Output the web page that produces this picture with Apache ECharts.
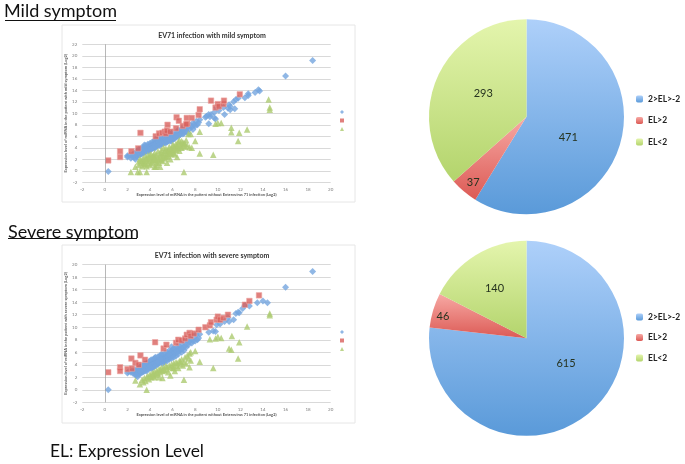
<!DOCTYPE html>
<html><head><meta charset="utf-8">
<style>html,body{margin:0;padding:0;background:#fff}#c{width:685px;height:464px}</style>
<script src="https://cdn.jsdelivr.net/npm/echarts@6/dist/echarts.min.js"></script>
</head><body><div id="c"></div>
<script>
const pieCategories=['2>EL>-2','EL>2','EL<2'];
const mildPie=[471,37,293];
const severePie=[615,46,140];

const mildBlue=[[0.3,-0.1],[18.4,19.2],[16,16.5],[13.6,14.1],[13.7,13.9],[13.3,13.6],[12.7,13.4],[12.7,13.1],[12.4,12.7],[11.8,12.6],[11.6,12.4],[11.4,12],[11.5,10.8],[11,11.5],[11.1,11.2],[10.9,10.9],[11.1,10.6],[10.6,9.8],[10.5,11],[10.1,10.5],[9.9,11],[9.7,10.2],[9.4,9.8],[9.3,9.4],[9.2,8.2],[9.7,9.2],[9.8,9],[9,9.5],[8.9,9.3],[9.2,9.8],[8.4,8.9],[8.1,8.6],[7.8,8.3],[8.2,8],[8,7.8],[7.7,7.6],[7.8,7.2],[7.5,7.3],[7.4,6.5],[7,7.2],[7.2,6.9],[6.9,6.4],[6.7,6.9],[6.6,6.2],[6.4,6.7],[6.4,6],[6.2,5.6],[6.3,6.4],[6.1,6.1],[6,6.7],[6,5.4],[5.9,6.2],[5.8,5.8],[5.8,5.2],[5.7,6.5],[5.6,6],[5.6,5.5],[5.5,5],[5.4,6.2],[5.4,5.7],[5.3,5.3],[5.2,4.8],[5.2,6],[5.1,5.6],[5.1,5.1],[5,5.8],[5,4.6],[4.9,5.3],[4.9,4.9],[4.8,5.6],[4.8,4.5],[4.7,5.1],[4.7,4.7],[4.6,5.4],[4.6,4.3],[4.5,4.9],[4.5,4.5],[4.4,5.2],[4.4,4.1],[4.3,4.7],[4.3,4.3],[4.2,5],[4.2,3.9],[4.1,4.5],[4.1,4.1],[4,4.8],[4,3.7],[3.9,4.3],[3.9,3.9],[3.8,4.6],[3.8,3.5],[3.7,4.1],[3.7,3.7],[3.6,4.4],[3.6,3.3],[3.5,3.9],[3.5,3.5],[3.4,4.1],[3.4,3.1],[3.3,3.7],[3.3,3.3],[3.2,3.9],[3.2,2.9],[3.1,3.5],[3.1,3.1],[3,3.7],[3,2.7],[2.9,3.3],[2.9,2.9],[2.8,3.4],[2.8,2.5],[2.7,3],[2.7,2.7],[2.7,2],[2.6,2.3],[2.5,2.9],[2.4,2.5],[2.3,2.2],[2,2.6],[2,2.4],[2.2,2.7],[3.5,4.5],[4.5,5.4],[5.5,6.5],[6.5,7.1],[5,5.3],[6,5.9],[7,6.5],[7.3,7.5],[6.8,7.3],[3.9,3.4],[4.4,3.9],[4.9,4.4],[5.4,4.9],[5.9,5.2],[3,3.2],[3.2,3.4],[3.4,3.6],[3.6,3.8],[3.8,4],[4,4.2],[4.2,4.4],[4.4,4.6],[4.6,4.8],[4.8,5],[5,5],[5.2,5.4],[5.4,5.3],[5.6,5.2],[5.8,5.5],[6,6.1],[6.2,6.2],[6.4,6.3],[6.6,6.6],[6.8,6.8],[7,6.9],[3.1,2.8],[3.3,3],[3.5,3.2],[3.7,3.4],[3.9,3.6],[4.1,3.8],[4.3,4],[4.5,4.2],[4.7,4.4],[4.9,4.6],[5.1,4.8],[5.3,4.9],[5.5,5.2],[5.7,5.3],[5.9,5.7],[6.1,5.7],[6.3,5.9],[6.5,6],[6.7,6.3],[2.9,2.6],[2.8,2.9],[2.6,2.7],[7.6,7.9],[7.9,8],[7.2,7.4],[8.3,8.4]];
const mildRed=[[0.3,1.8],[1.35,3.4],[1.35,2.4],[2.35,3.4],[2.95,3.9],[3.15,6.6],[4.5,6],[4.8,6.5],[5.1,6.6],[5.3,6.8],[5.4,6.5],[5.5,7],[5.55,8],[5.8,6.8],[6.3,7.4],[6.35,9.3],[6.55,8.7],[6.9,7.8],[7.25,9.2],[7.3,8.2],[7.7,9.2],[8.3,9.7],[8.4,10.7],[9.4,12.2],[9.8,11],[10,11.6],[10.1,11.2],[10.5,11.6],[10.55,12.2],[11.95,13.3],[7.2,8.1]];
const mildGreen=[[14.5,12.4],[14.6,11],[14.6,10.6],[12.6,7.2],[11.9,6.6],[11.8,5.2],[11.2,7.5],[11.2,6.7],[10.3,8.3],[10,8.3],[9.8,8.2],[9.6,2.8],[8.4,6.8],[8.4,3],[8,5.2],[7.6,6.4],[7.4,6.4],[7,-0.2],[6.4,2.4],[5.8,2],[5.5,1.4],[5.2,4],[4.9,0.7],[4.5,0.7],[4.4,0.7],[3.7,-0.2],[3.1,-0.2],[2.9,-0.2],[2.3,-0.2],[2.7,0.7],[3,1],[3,1.6],[3.1,2],[3.2,1.3],[3.3,0.8],[3.3,1.8],[3.4,2.2],[3.5,1.1],[3.5,1.6],[3.6,2.5],[3.7,0.8],[3.7,2],[3.8,1.3],[3.8,2.7],[3.9,1.7],[4,2.3],[4,1],[4.1,2.9],[4.2,1.5],[4.2,2],[4.3,2.6],[4.4,3.1],[4.5,1.8],[4.5,2.3],[4.6,2.8],[4.7,3.4],[4.8,1.4],[4.8,2],[4.9,2.5],[5,3.1],[5,3.6],[5.1,1.7],[5.1,2.2],[5.2,2.7],[5.3,3.4],[5.4,3.9],[5.4,2.4],[5.5,3],[5.6,2.6],[5.6,3.6],[5.7,4.2],[5.8,3.2],[5.9,2.9],[5.9,3.9],[6,4.5],[6,3.5],[6.1,3.1],[6.2,4.1],[6.3,4.7],[6.3,3.6],[6.4,4.3],[6.5,5],[6.5,3.9],[6.6,3.5],[6.7,4.6],[6.8,5.2],[6.8,4],[6.9,4.4],[7,4.9],[7.1,4.2],[7.2,5.3],[7.3,4.4],[7.5,4.1],[7.7,4],[6.2,2.9],[6.6,5.3],[4.6,1],[3.4,1.4],[3.2,1.8],[3.6,1.2],[3.9,2.3],[4.1,1.3],[4.3,1.9],[4.4,2.5],[4.6,1.5],[4.7,2.2],[4.9,3],[5,1.9],[5.1,2.7],[5.2,3.2],[5.3,2.2],[5.5,2.5],[5.5,3.5],[5.7,3],[5.7,3.6],[5.9,3.4],[6.1,3.7],[6.1,4.4],[6.3,4.1],[6.5,4.4],[6.7,4.1],[6.9,4.9],[7.1,4.7],[4,2.8],[4.2,2.5],[4.4,2],[3.8,2.1],[3.6,1.9]];

const severeBlue=[[0.3,0],[18.4,18.9],[16,16.4],[14.4,13.9],[14,14.2],[13.5,13.9],[12.8,13.4],[12.4,13.5],[12.2,13],[11.9,12.3],[11.8,12.4],[11.6,12.2],[11.4,11.2],[11,10.9],[10.9,11.5],[10.6,10.9],[10.2,10.5],[9.9,10.4],[9.8,9.3],[9.6,9.4],[9.2,9.2],[8.2,8],[8.1,8.9],[8.4,8.9],[8,7.8],[7.7,7.5],[7.9,8.4],[7.6,8.1],[7.4,7.2],[7.3,7.9],[7.2,6.8],[7,7.6],[6.9,6.6],[6.8,7.3],[6.7,6.4],[6.6,7],[6.5,6.1],[6.4,6.8],[6.3,5.9],[6.2,6.5],[6.1,5.7],[6,6.4],[6,5.4],[5.9,6.9],[5.8,5.9],[5.8,5.2],[5.7,6.3],[5.6,5.7],[5.6,5],[5.5,6],[5.4,5.4],[5.4,4.8],[5.3,5.8],[5.2,5.2],[5.2,4.6],[5.1,5.6],[5,5.1],[5,4.4],[4.9,5.5],[4.8,4.9],[4.8,4.3],[4.7,5.3],[4.6,4.7],[4.6,4.1],[4.5,5.2],[4.4,4.5],[4.4,3.9],[4.3,4.9],[4.2,4.3],[4.2,3.7],[4.1,4.8],[4,4.1],[4,3.5],[3.9,4.5],[3.8,3.9],[3.8,3.3],[3.7,4.3],[3.6,3.7],[3.6,3.1],[3.5,4.1],[3.4,3.5],[3.4,2.9],[3.3,3.9],[3.2,3.3],[3.2,2.7],[3.1,3.6],[3,3],[3,2.5],[2.9,3.3],[2.9,2.1],[2.8,2.7],[2.7,3.2],[2.7,2.4],[2.6,2.9],[2.5,2.6],[2.4,3],[2.3,2.8],[2.1,2.9],[2,2.7],[3.5,3.4],[4,4.6],[4.5,4.6],[5,5.7],[5.5,5.3],[6,5.9],[6.5,6.6],[7,6.9],[7.5,7.7],[3.7,3],[4.2,3.5],[4.7,4.1],[5.2,4.5],[5.7,4.9],[6.3,5.4],[6.8,6],[5.9,6.2],[6.1,6.6],[4.4,5.1],[4.9,4.6],[3.9,3.6],[3,3.4],[3.2,3.6],[3.4,3.8],[3.6,4],[3.8,4.2],[4,3.8],[4.2,4],[4.4,4.2],[4.6,4.4],[4.8,4.6],[5,4.8],[5.2,4.9],[5.4,5.1],[5.6,5.3],[5.8,5.5],[6,5.7],[6.2,5.9],[6.4,6.2],[6.6,6.3],[6.8,6.6],[7,6.3],[3.1,2.6],[3.3,2.8],[3.5,3],[3.3,3.2],[3.1,3],[4.1,3.4],[4.3,3.6],[4.5,3.8],[4.7,4.5],[4.9,5],[5.1,4.2],[5.3,4.5],[5.5,4.6],[5.7,5.6],[5.9,5],[6.1,5.2],[7.2,7.2],[7.8,7.8],[8.3,8.3],[2.8,2.3],[6.5,5.7]];
const severeRed=[[0.3,2.8],[1.35,3.6],[1.35,3],[2,3.3],[2.4,3.4],[2.35,5],[2.7,4.3],[3,4],[3.15,5.5],[3.55,4.8],[4.45,7.6],[5.2,6.6],[5.45,7.2],[6.3,7.5],[6.5,8],[6.8,7.9],[7.1,8.2],[7.25,8.8],[7.5,9.1],[7.6,8.6],[7.9,9],[8.3,9.6],[8.9,10],[9.3,10.3],[9.4,10.8],[9.9,11.2],[10,11.7],[10.2,11.2],[10.5,11.5],[10.9,12],[12.4,13.6],[12.8,14.2],[13.65,15.1]];
const severeGreen=[[14.6,12.2],[14.6,11.9],[12.6,10.1],[11.9,7.6],[11.8,5],[11.25,8.6],[11,6.6],[11.2,6.4],[10.3,8.3],[10,8.5],[9.8,8.2],[9.3,8.1],[9.6,3.5],[8.4,4.5],[8,6.2],[7.6,6],[7.5,3.6],[7,1.6],[3.7,0],[3.1,0.9],[2.7,1.5],[4.8,2],[5.1,1.9],[5.8,2.3],[6.1,3.5],[3.3,1.6],[3.5,1.9],[3.6,1.4],[3.8,2.2],[3.9,1.7],[4,2.5],[4.1,2],[4.2,2.7],[4.3,2.2],[4.4,2.9],[4.5,2.4],[4.6,3.1],[4.7,2.6],[4.8,3.3],[4.9,2.8],[5,3.5],[5.1,3],[5.2,3.6],[5.3,3.1],[5.4,3.8],[5.5,3.3],[5.6,2.8],[5.7,3.9],[5.9,4.1],[6,3.5],[6.1,4.3],[6.2,3],[6.3,4.4],[6.4,3.8],[6.5,3.5],[6.6,4.6],[6.7,4.1],[6.8,4.9],[6.9,3.9],[7,4.5],[7.1,5.2],[7.2,4.2],[7.3,5.5],[7.4,5],[7.5,5.8],[7.6,4.7],[4.4,2],[3.4,1.2],[3.7,2],[4,2.1],[4.3,2.6],[4.6,2.7],[4.9,3.2],[5.2,3.2],[5.5,3.7],[5.8,3.6],[6.1,3.9],[6.4,4.3],[6.7,4.5]];

const GREY='#7f7f7f';
function grad(a,b){return {type:'linear',x:0,y:0,x2:0,y2:1,colorStops:[{offset:0,color:a},{offset:1,color:b}]};}
const pieColors=[grad('#aed0fa','#5a9ad9'),grad('#f7a9a4','#dc5a55'),grad('#e4f5ad','#b3d46c')];

function scatterSeries(prefix,i,a,b,c){
  const base={type:'scatter',xAxisIndex:i,yAxisIndex:i,silent:true};
  return [
   {...base,name:prefix+' a',data:a,symbol:'diamond',symbolSize:7,itemStyle:{color:'#74a5de'},
     markLine:{silent:true,symbol:'none',label:{show:false},animation:false,lineStyle:{color:'#9a9a9a',width:0.7,type:'solid'},data:[{xAxis:0}]}},
   {...base,name:prefix+' b',data:b,symbol:'rect',symbolSize:5.5,itemStyle:{color:'#d8605c',borderColor:'#eda5a2',borderWidth:0.7}},
   {...base,name:prefix+' c',data:c,symbol:'triangle',symbolSize:6.5,itemStyle:{color:'#adcb70'}}
  ];
}
function xAxis(i,title){return {type:'value',gridIndex:i,min:-2,max:20,interval:2,
  axisLine:{show:false,onZero:false},axisTick:{show:false},splitLine:{show:false},
  axisLabel:{fontSize:4.5,color:GREY,margin:4.5,fontFamily:'Lato'},
  name:title,nameLocation:'middle',nameGap:10,nameTextStyle:{fontSize:3.95,fontWeight:'bold',color:'#555',fontFamily:'Lato'}};}
function yAxis(i,max,title){return {type:'value',gridIndex:i,min:-2,max:max,interval:2,
  axisLine:{show:false,onZero:false},axisTick:{show:false},splitLine:{lineStyle:{color:'#d9d9d9',width:1}},
  axisLabel:{fontSize:4.5,color:GREY,margin:5,fontFamily:'Lato'},
  name:title,nameLocation:'middle',nameGap:10,nameTextStyle:{fontSize:4,fontWeight:'bold',color:'#555',fontFamily:'Lato'}};}
function pieSeries(vals,cy,offs){
  return {type:'pie',center:[526.5,cy],radius:[0,97.5],startAngle:90,clockwise:true,silent:true,animation:false,
    labelLine:{show:false},
    data:pieCategories.map((n,k)=>({name:n,value:vals[k],itemStyle:{color:pieColors[k]},
      label:{show:true,position:'inside',offset:offs[k],fontSize:11,color:'#26331f',fontFamily:'Lato',formatter:'{c}'}}))};
}
function pieLegend(top,gap){return {orient:'vertical',left:636,top:top,padding:0,itemWidth:7,itemHeight:7,itemGap:gap,
  data:pieCategories,selectedMode:false,textStyle:{fontSize:8.5,lineHeight:10,fontWeight:'bold',color:'#222',fontFamily:'Lato'}};}
function miniLegend(prefix,top){return {orient:'vertical',left:340,top:top,itemWidth:4,itemHeight:4,itemGap:4.5,padding:0,
  selectedMode:false,formatter:()=>' ',itemStyle:{borderWidth:0},textStyle:{fontSize:4,lineHeight:4},data:['a','b','c'].map(s=>prefix+' '+s)};}
function headline(t,left,top,size){return {text:t,left:left,top:top,padding:0,textStyle:{fontSize:size,fontWeight:'normal',color:'#111',fontFamily:'Lato'}};}
function chartTitle(t,cx,top){return {text:t,left:cx,top:top,padding:0,textAlign:'center',textStyle:{fontSize:7,fontWeight:'bold',color:'#333',fontFamily:'Lato'}};}

const chart=echarts.init(document.getElementById('c'),null,{renderer:'canvas'});
chart.setOption({
  animation:false,backgroundColor:'#fff',
  title:[headline('Mild symptom',4,2,18),headline('Severe symptom',8,223,18),headline('EL: Expression Level',50,443,17.4),
    chartTitle('EV71 infection with mild symptom',212,32),chartTitle('EV71 infection with severe symptom',212,252)],
  graphic:[
    {type:'rect',shape:{x:62,y:25,width:293,height:177},style:{fill:'#fff',stroke:'#e6e6e6',lineWidth:1},z:-1},
    {type:'rect',shape:{x:62,y:245,width:293,height:178},style:{fill:'#fff',stroke:'#e6e6e6',lineWidth:1},z:-1},
    {type:'line',shape:{x1:5,y1:20.5,x2:116,y2:20.5},style:{stroke:'#111',lineWidth:1}},
    {type:'line',shape:{x1:8,y1:238.5,x2:137,y2:238.5},style:{stroke:'#111',lineWidth:1}}
  ],
  grid:[{left:82.3,width:248.4,top:44.3,height:138},{left:82.3,width:248.4,top:264.7,height:137.6}],
  xAxis:[xAxis(0,'Expression level of miRNA in the patient without Enterovirus 71 infection (Log2)'),
         xAxis(1,'Expression level of miRNA in the patient without Enterovirus 71 infection (Log2)')],
  yAxis:[yAxis(0,22,'Expression level of miRNA in the patient with mild symptom (Log2)'),
         yAxis(1,20,'Expression level of miRNA in the patient with severe symptom (Log2)')],
  legend:[pieLegend(94,11.5),pieLegend(312,10.5),miniLegend('mild',110),miniLegend('severe',330)],
  series:[...scatterSeries('mild',0,mildBlue,mildRed,mildGreen),
          ...scatterSeries('severe',1,severeBlue,severeRed,severeGreen),
          pieSeries(mildPie,116.7,[[-8,7],[-20,26],[4,-2]]),
          pieSeries(severePie,338.3,[[5,-13],[-34,-7],[-5,-6]])]
});
</script></body></html>
